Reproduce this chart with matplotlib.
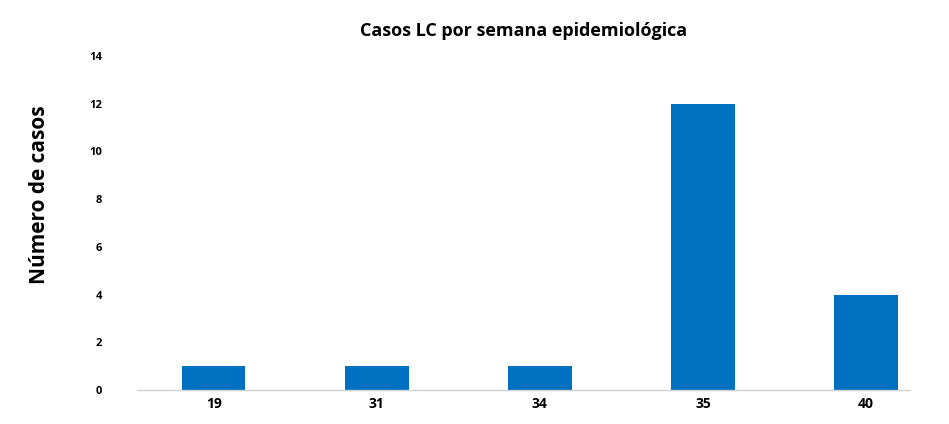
import matplotlib.pyplot as plt
import numpy as np

weeks = ['19', '31', '34', '35', '40']
cases = [1, 1, 1, 12, 4]
y_ticks = [0, 2, 4, 6, 8, 10, 12, 14]

plt.rcParams['font.family'] = ['Open Sans', 'DejaVu Sans']

fig = plt.figure(figsize=(9.49, 4.24), dpi=100)
ax = fig.add_axes([0.1444, 0.0802, 0.8145, 0.788])

x = np.arange(len(weeks))
ax.bar(x, cases, width=0.39, color='#0070C0')

ax.set_xlim(-0.47, 4.27)
ax.set_ylim(0, 14)
ax.set_xticks(x)
ax.set_xticklabels(weeks, fontsize=10, fontweight='bold')
ax.set_yticks(y_ticks)
ax.set_yticklabels([str(t) for t in y_ticks], fontsize=8, fontweight='bold')
ax.tick_params(axis='y', length=0, pad=25)
ax.tick_params(axis='x', length=0, pad=5)

for side in ['top', 'right', 'left']:
    ax.spines[side].set_visible(False)
ax.spines['bottom'].set_color('#d0d0d0')
ax.spines['bottom'].set_linewidth(1)

ax.set_title('Casos LC por semana epidemiológica', fontsize=13, fontweight='bold', pad=14)
fig.text(0.042, 0.54, 'Número de casos', rotation=90, fontsize=15, fontweight='bold',
         ha='center', va='center')

fig.savefig('out.png', dpi=100)
